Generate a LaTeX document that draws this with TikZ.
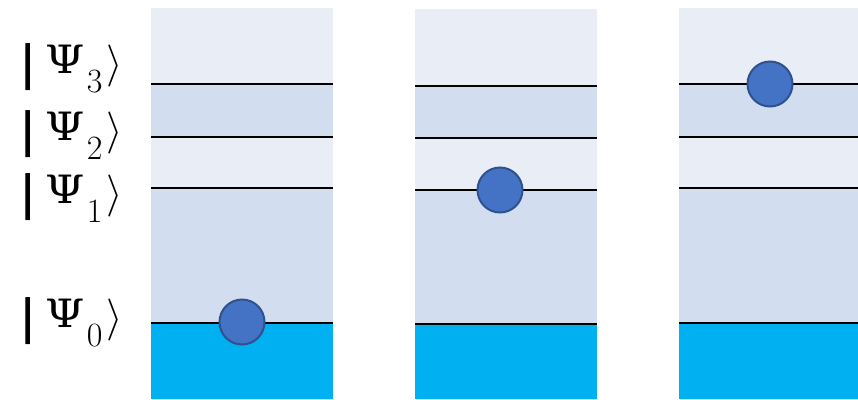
\RequirePackage{fix-cm}
\documentclass[tikz,border=0pt]{standalone}
\usepackage{graphicx}
\usepackage{fontspec}
\newfontfamily\barfont{DejaVu Sans}
\newfontfamily\greekfont{DejaVu Serif}
\definecolor{bandlight}{RGB}{233,237,246}
\definecolor{bandmid}{RGB}{210,222,239}
\definecolor{groundcyan}{RGB}{0,176,240}
\definecolor{ballfill}{RGB}{68,114,196}
\definecolor{balledge}{RGB}{47,82,143}
\tikzset{
  level/.style={line width=2.4pt, black},
  ball/.style={circle, fill=ballfill, draw=balledge, line width=2pt,
    minimum size=45pt, inner sep=0pt},
  ketlabel/.style={anchor=base west, inner sep=0pt,
    font=\fontsize{42}{42}\selectfont}
}
% one energy well: x-range, top edge and the four level heights
\newcommand\energywell[7]{%
  \fill[bandlight] (#1,#3) rectangle (#2,#4);
  \fill[bandmid]   (#1,#4) rectangle (#2,#5);
  \fill[bandlight] (#1,#5) rectangle (#2,#6);
  \fill[bandmid]   (#1,#6) rectangle (#2,#7);
  \fill[groundcyan](#1,#7) rectangle (#2,399);
  \foreach \yl in {#4,#5,#6,#7} \draw[level] (#1,\yl) -- (#2,\yl);
}
% ket |Psi_n> with a heavy bar and a large, low index
\newcommand\ket[1]{%
  \raisebox{-6pt}{\scalebox{1}[1.12]{\barfont\bfseries|}}%
  \kern10pt\scalebox{1.15}[1]{\greekfont\fontsize{39}{39}\selectfont Ψ}%
  \kern2pt\raisebox{-19pt}{\fontsize{34}{34}\selectfont #1}%
  \kern4pt\raisebox{-3pt}{$\rangle$}}
\begin{document}
\begin{tikzpicture}[x=1pt,y=-1pt]
\useasboundingbox (0,0) rectangle (858,399);
\fill[white] (0,0) rectangle (858,399);

\energywell{151}{333}{8}{84}{137}{188}{323}
\energywell{415}{597}{9}{86}{138}{190}{324}
\energywell{679}{858}{8}{84}{137}{188}{323}

\node[ball] (e1) at (242,322) {};
\node[ball] (e2) at (500,190) {};
\node[ball] (e3) at (770,84) {};

\node[ketlabel] (k3) at (20,73) {\ket{3}};
\node[ketlabel] (k2) at (20,140) {\ket{2}};
\node[ketlabel] (k1) at (20,203) {\ket{1}};
\node[ketlabel] (k0) at (20,327) {\ket{0}};
\end{tikzpicture}
\end{document}
